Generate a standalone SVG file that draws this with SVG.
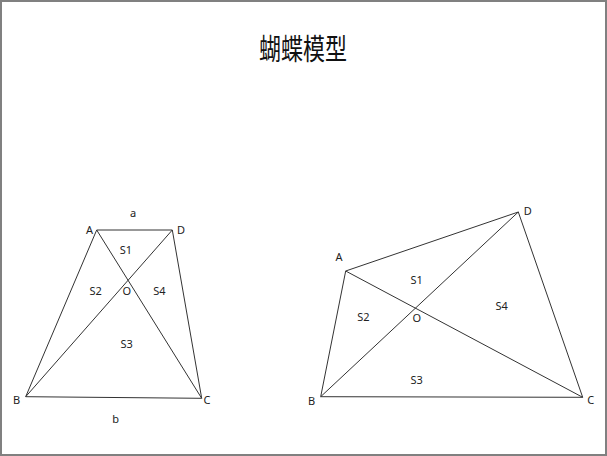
<svg xmlns="http://www.w3.org/2000/svg" width="607" height="456" viewBox="0 0 607 456">
<style>
.lbl{font-family:"Noto Sans","Liberation Sans",sans-serif;font-size:11px;fill:#222;text-anchor:middle;dominant-baseline:central}
.ln{stroke:#333;stroke-width:1;fill:none}
.title{font-family:"Noto Sans CJK SC",sans-serif;font-size:29px;fill:#111;text-anchor:middle}
</style>
<rect x="1" y="1" width="605" height="454" fill="#fff" stroke="#808080" stroke-width="2"/>
<text class="title" x="303" y="60" textLength="88" lengthAdjust="spacingAndGlyphs">蝴蝶模型</text>
<g id="connectors">
<g id="left-figure">
<line class="ln" x1="96.7" y1="230" x2="172.3" y2="230"/>
<line class="ln" x1="96.7" y1="230" x2="25.7" y2="396.7"/>
<line class="ln" x1="172.3" y1="230" x2="201.7" y2="398.3"/>
<line class="ln" x1="25.7" y1="396.7" x2="201.7" y2="398.3"/>
<line class="ln" x1="96.7" y1="230" x2="201.7" y2="398.3"/>
<line class="ln" x1="172.3" y1="230" x2="25.7" y2="396.7"/>
</g>
<g id="right-figure">
<line class="ln" x1="345.7" y1="271" x2="518.3" y2="212"/>
<line class="ln" x1="345.7" y1="271" x2="320.7" y2="396.7"/>
<line class="ln" x1="518.3" y1="212" x2="582.7" y2="397.3"/>
<line class="ln" x1="320.7" y1="396.7" x2="582.7" y2="397.3"/>
<line class="ln" x1="345.7" y1="271" x2="582.7" y2="397.3"/>
<line class="ln" x1="518.3" y1="212" x2="320.7" y2="396.7"/>
</g>
</g>
<g id="left-labels">
<text class="lbl" x="133" y="212.5">a</text>
<text class="lbl" x="89.5" y="229">A</text>
<text class="lbl" x="181" y="229">D</text>
<text class="lbl" x="16.7" y="399">B</text>
<text class="lbl" x="207" y="399">C</text>
<text class="lbl" x="115.7" y="418.5">b</text>
<text class="lbl" x="126" y="249">S1</text>
<text class="lbl" x="126.7" y="290.7">O</text>
<text class="lbl" x="95.7" y="290.7">S2</text>
<text class="lbl" x="159.3" y="290.7">S4</text>
<text class="lbl" x="126.7" y="343.3">S3</text>
</g>
<g id="right-labels">
<text class="lbl" x="339" y="256.7">A</text>
<text class="lbl" x="527.7" y="210">D</text>
<text class="lbl" x="311.7" y="400">B</text>
<text class="lbl" x="590.7" y="399">C</text>
<text class="lbl" x="416.7" y="279">S1</text>
<text class="lbl" x="363.3" y="316">S2</text>
<text class="lbl" x="416.7" y="317.7">O</text>
<text class="lbl" x="501.7" y="305">S4</text>
<text class="lbl" x="416.7" y="379.3">S3</text>
</g>
</svg>
